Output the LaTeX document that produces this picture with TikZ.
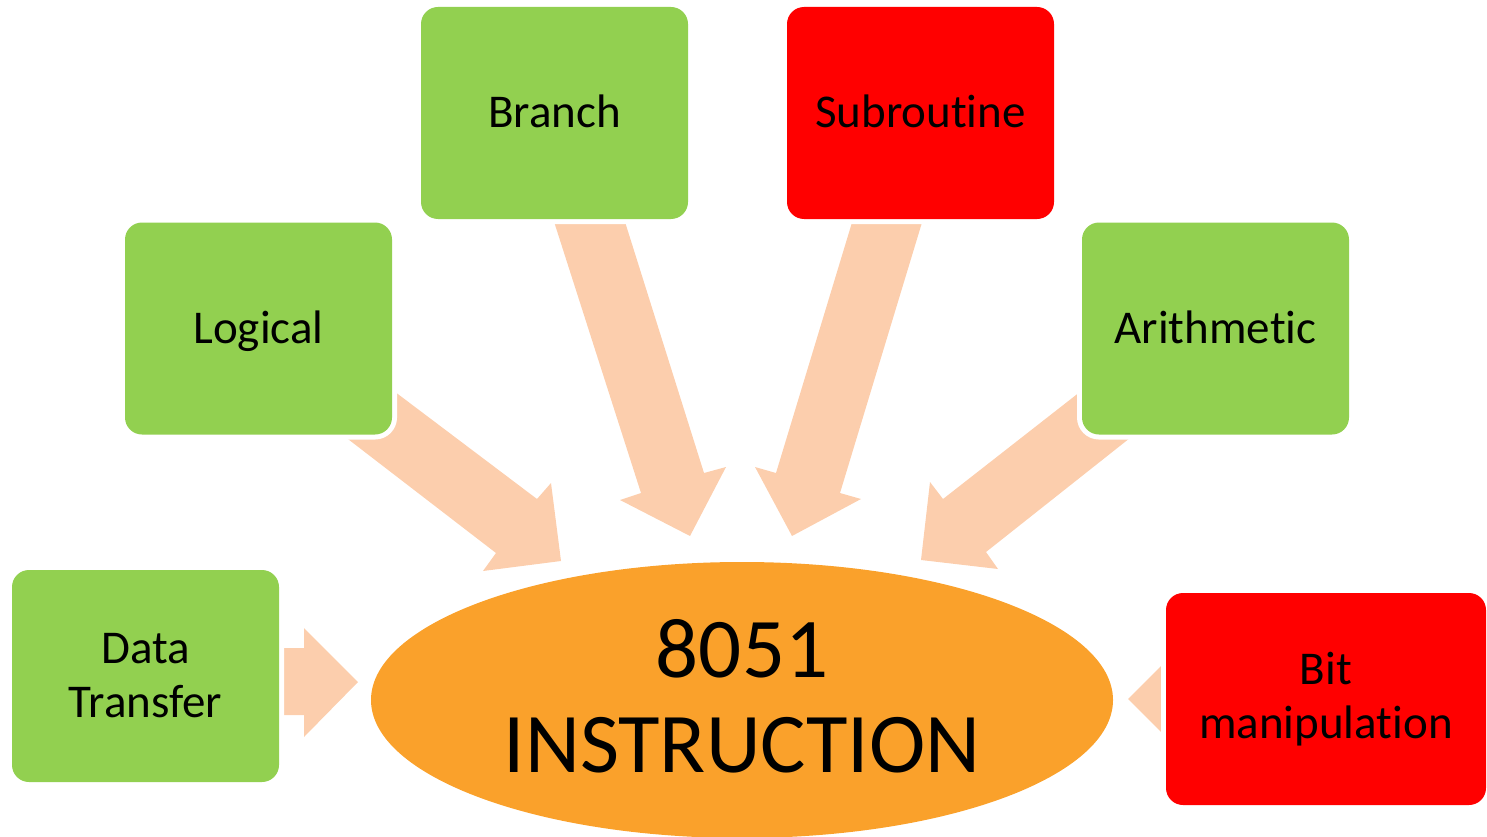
\documentclass[tikz,border=0pt]{standalone}
\usepackage{fontspec}
\setmainfont{Carlito}[Ligatures={NoCommon,NoRequired,NoContextual}]
\usetikzlibrary{shapes.geometric}
\definecolor{boxgreen}{HTML}{92D050}
\definecolor{boxred}{HTML}{FF0000}
\definecolor{coreorange}{HTML}{FAA12B}
\definecolor{arrowpeach}{HTML}{FCCEAD}
% break the t-i ligature of the font
\newcommand{\tisplit}{t\kern0pt i}
\tikzset{
  category/.style={rectangle, rounded corners=17pt, minimum width=267pt,
    minimum height=212pt, inner sep=0pt, align=center,
    font=\fontsize{47}{54}\selectfont,
    preaction={draw=white, line width=10pt}},
  oneline/.style={text height=30pt, text depth=0pt},
  blockarrow/.style={fill=arrowpeach},
  core/.style={ellipse, fill=coreorange, minimum width=742pt,
    minimum height=276pt, inner sep=0pt, align=center,
    font=\fontsize{85}{95}\selectfont}
}
\begin{document}
\begin{tikzpicture}[x=1pt, y=-1pt]
\useasboundingbox (0,0) rectangle (1487,837);

% block arrows pointing into the central ellipse
\fill[blockarrow] (366,370) -- (537,499) -- (551,483) -- (561,561) -- (483,571) -- (496,553) -- (318,416) -- cycle;
\fill[blockarrow] (549,206) -- (620,206) -- (704,473) -- (726,467) -- (690,536) -- (620,500) -- (641,493) -- cycle;
\fill[blockarrow] (857,206) -- (927,206) -- (840,493) -- (861,499) -- (792,536) -- (755,467) -- (776,473) -- cycle;
\fill[blockarrow] (1108,370) -- (943,499) -- (930,482) -- (921,560) -- (998,569) -- (986,552) -- (1159,415) -- cycle;
\fill[blockarrow] (260,648) -- (304,648) -- (304,628) -- (358,682) -- (304,737) -- (304,715) -- (260,715) -- cycle;
\fill[blockarrow] (1128,699) -- (1168,659) -- (1168,679) -- (1200,679) -- (1200,720) -- (1168,720) -- (1168,739) -- cycle;

% central ellipse (the empty rule lifts the two lines slightly)
\node[core] (core) at (742,700) {8051\\INSTRUCTION\rule[-8pt]{0pt}{0pt}};

% instruction categories
\node[category, oneline, fill=boxgreen] (branch) at (554.5,113) {Branch};
\node[category, oneline, fill=boxred] (subroutine) at (920.5,113) {Subrou\tisplit ne};
\node[category, oneline, fill=boxgreen] (logical) at (258.5,328.5) {Logical};
\node[category, oneline, fill=boxgreen] (arithmetic) at (1215.5,328.5) {Arithme\tisplit c};
\node[category, fill=boxgreen] (datatransfer) at (145.5,676) {Data\\Transfer};
\node[category, fill=boxred, minimum width=320pt] (bitmanip) at (1326,699) {Bit\\manipula\tisplit on};
\end{tikzpicture}
\end{document}
